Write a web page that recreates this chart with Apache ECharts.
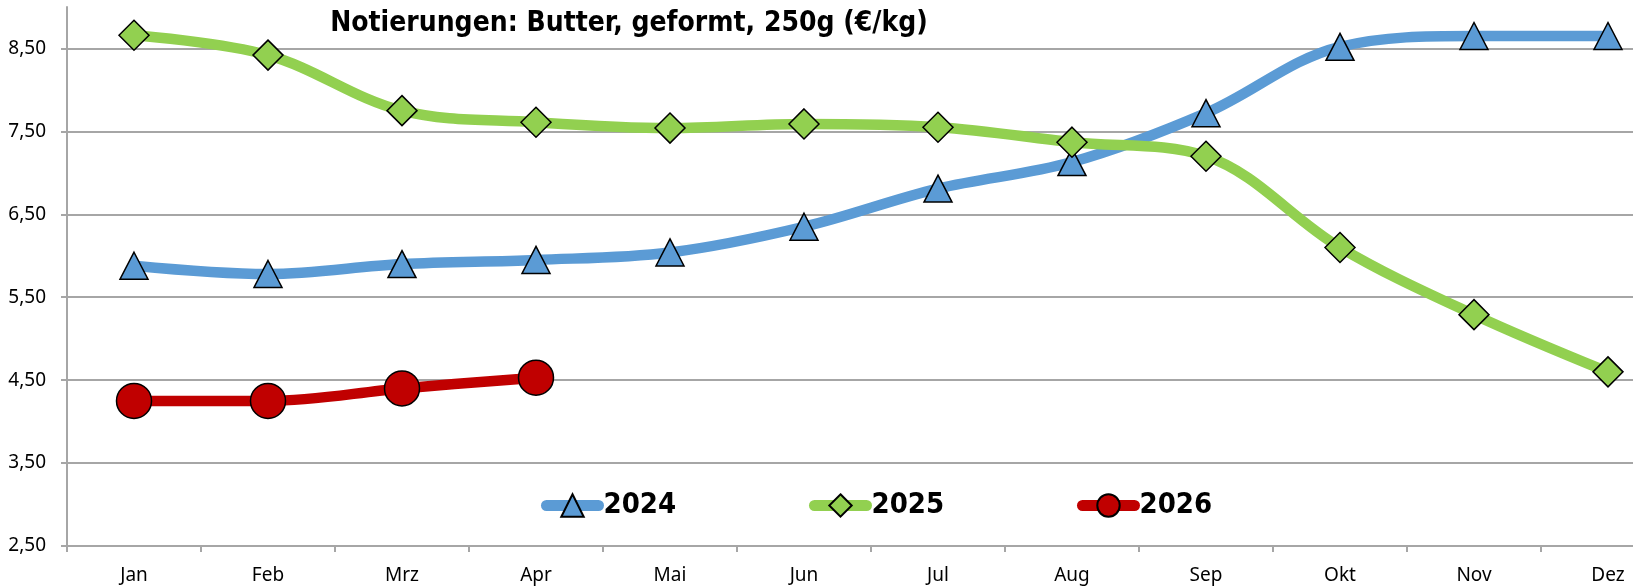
<!DOCTYPE html>
<html>
<head>
<meta charset="utf-8">
<script src="https://cdn.jsdelivr.net/npm/echarts@6/dist/echarts.min.js"></script>
<style>
  html, body { margin: 0; padding: 0; background: #fff; }
  #main { width: 1633px; height: 586px; }
</style>
</head>
<body>
<div id="main"></div>
<script>
// Monate (x-Achse)
var months = ['Jan', 'Feb', 'Mrz', 'Apr', 'Mai', 'Jun', 'Jul', 'Aug', 'Sep', 'Okt', 'Nov', 'Dez'];

// Notierungen in €/kg
var butter2024 = [5.88, 5.78, 5.90, 5.95, 6.04, 6.35, 6.81, 7.13, 7.72, 8.52, 8.65, 8.65];
var butter2025 = [8.66, 8.42, 7.75, 7.61, 7.54, 7.59, 7.55, 7.37, 7.20, 6.10, 5.29, 4.60];
var butter2026 = [4.25, 4.25, 4.40, 4.53];

var yMin = 2.5, yMax = 9, yStep = 1;

var font = "'Liberation Sans Narrow', 'DejaVu Sans Condensed', 'Noto Sans', sans-serif";
var labelFont = "'Noto Sans', sans-serif";
var gridGray = '#a6a6a6';

var chart = echarts.init(document.getElementById('main'), null, { renderer: 'canvas' });

function lineSeries(name, data, color, symbol, size) {
  return {
    name: name,
    type: 'line',
    data: data,
    smooth: 0.35,
    symbol: symbol,
    symbolSize: size,
    showAllSymbol: true,
    lineStyle: { color: color, width: 10.5, cap: 'round', join: 'round' },
    itemStyle: { color: color, borderColor: '#000', borderWidth: 1.5 },
    emphasis: { disabled: true },
    z: 2
  };
}

function legendAt(name, left) {
  return {
    data: [name],
    left: left,
    top: 491,
    itemWidth: 52,
    itemHeight: 28,
    padding: 0,
    lineStyle: { width: 11, cap: 'round' },
    textStyle: { fontFamily: font, fontWeight: 'bold', fontSize: 29, color: '#000' },
    selectedMode: false
  };
}

var option = {
  animation: false,
  title: {
    text: 'Notierungen: Butter, geformt, 250g (€/kg)',
    left: 629,
    textAlign: 'center',
    top: 10,
    padding: 0,
    textStyle: { fontFamily: font, fontWeight: 'bold', fontSize: 28, color: '#000' }
  },
  legend: [legendAt('2024', 541), legendAt('2025', 809), legendAt('2026', 1077)],
  grid: { left: 67, width: 1608, top: 7, bottom: 40, outerBoundsMode: 'none', containLabel: false },
  xAxis: {
    type: 'category',
    data: months,
    boundaryGap: true,
    axisLine: { lineStyle: { color: gridGray, width: 2 } },
    axisTick: { show: true, length: 6, lineStyle: { color: gridGray, width: 2 } },
    axisLabel: { fontFamily: labelFont, fontSize: 19, color: '#000', margin: 20 },
    splitLine: { show: false }
  },
  yAxis: {
    type: 'value',
    min: yMin,
    max: yMax,
    interval: yStep,
    axisLine: { show: true, lineStyle: { color: gridGray, width: 2 } },
    axisTick: { show: true, length: 6, lineStyle: { color: gridGray, width: 2 } },
    axisLabel: {
      fontFamily: labelFont, fontSize: 19, color: '#000', margin: 21,
      showMaxLabel: false,
      formatter: function (v) { return v.toFixed(2).replace('.', ','); }
    },
    splitLine: { show: true, showMaxLine: false, lineStyle: { color: gridGray, width: 2 } }
  },
  series: [
    lineSeries('2024', butter2024, '#5b9bd5', 'triangle', [28, 27]),
    lineSeries('2025', butter2025, '#92d050', 'diamond', [30, 30]),
    lineSeries('2026', butter2026, '#c00000', 'circle', 35)
  ]
};

chart.setOption(option);
</script>
</body>
</html>
